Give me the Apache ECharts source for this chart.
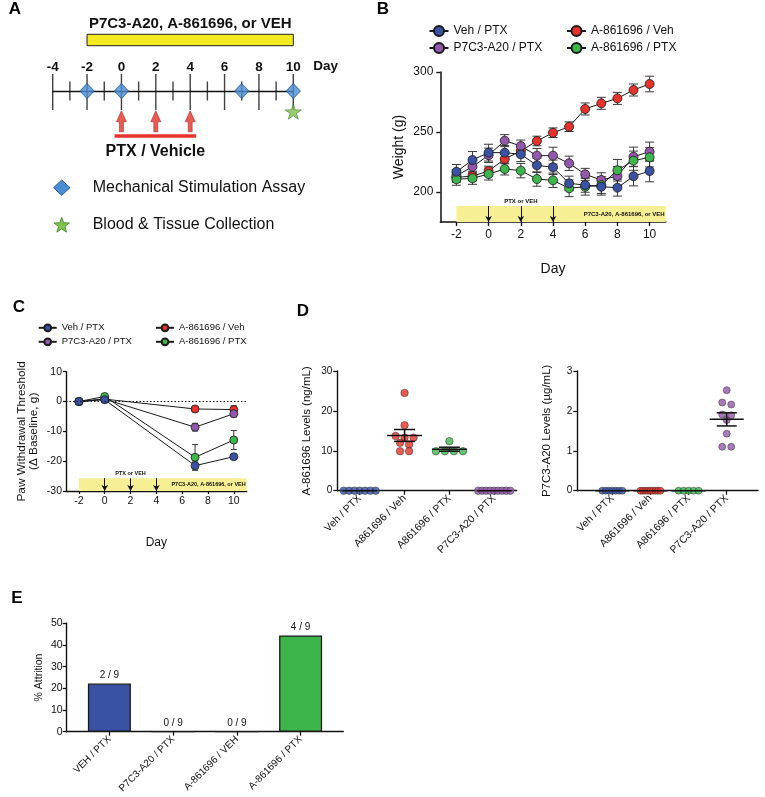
<!DOCTYPE html>
<html><head><meta charset="utf-8">
<script src="https://cdn.jsdelivr.net/npm/echarts@6/dist/echarts.min.js"></script>
<style>html,body{margin:0;padding:0;background:#fff}#c{width:765px;height:797px}</style>
</head><body><div id="c"></div>
<script>
// ================= DATA =================
// Panel A (timeline schematic)
const timelineStart = -4, timelineEnd = 10;
const assayDays = [-2, 0, 7, 10];
const collectionDays = [10];
const ptxDays = [0, 2, 4];
const treatmentWindow = [-2, 10];

// Panel B (body weight)
const daysB = [-2, -1, 0, 1, 2, 3, 4, 5, 6, 7, 8, 9, 10];
const dayTicks = [-2, 0, 2, 4, 6, 8, 10];
const weightTicks = [200, 250, 300];
const wVehPTX     = [216.9, 226.7, 232.8, 232.8, 231.4, 222.2, 220.6, 207.2, 205.8, 204.4, 203.6, 213.1, 217.5];
const wVehPTXErr  = [6, 7, 7, 6, 6, 6, 6, 6, 6, 7, 7, 8, 9];
const wA86Veh     = [212.2, 213.3, 217.5, 227.5, 234.2, 242.5, 249.4, 254.4, 269.2, 273.9, 278.0, 285.0, 290.0];
const wA86VehErr  = [4, 4, 4, 4, 4, 4, 4, 4, 5, 5, 5, 5, 6.5];
const wP7PTX      = [213.5, 221.1, 230.6, 242.8, 238.3, 230.3, 230.3, 223.9, 214.7, 210.0, 213.3, 229.4, 233.6];
const wP7PTXErr   = [5, 6, 6, 5, 5, 6, 7, 6, 5, 6, 8, 8, 8];
const wA86PTX     = [210.6, 211.4, 215.0, 219.2, 217.8, 210.8, 209.7, 203.1, 204.4, 205.8, 218.1, 226.1, 228.9];
const wA86PTXErr  = [5, 5, 5, 5, 6, 6, 6, 7, 7, 7, 9, 8, 8];

// Panel C (paw withdrawal threshold, delta baseline)
const daysC = [-2, 0, 7, 10];
const pVehPTX    = [0, 0.6, -21.5, -18.5];
const pVehPTXErr = [0, 0.4, 1.5, 0.7];
const pA86Veh    = [0, 0.8, -2.5, -2.7];
const pA86VehErr = [0, 0.4, 0.9, 1.3];
const pP7PTX     = [0, 0.8, -8.6, -4.1];
const pP7PTXErr  = [0, 0.4, 1.3, 1.1];
const pA86PTX    = [0, 1.7, -18.7, -12.9];
const pA86PTXErr = [0, 0.4, 4.3, 3.2];

// Panel D (drug levels)
const dCats = ['Veh / PTX', 'A861696 / Veh', 'A861696 / PTX', 'P7C3-A20 / PTX'];
const a86Levels = [
  [0, 0, 0, 0, 0, 0, 0],
  [24.5, 16.4, 13.7, 13.3, 13.3, 12.0, 11.6, 9.9, 9.9],
  [12.4, 9.9, 9.9, 9.9, 9.9],
  [0, 0, 0, 0, 0, 0, 0, 0, 0]
];
const p7Levels = [
  [0, 0, 0, 0, 0, 0, 0],
  [0, 0, 0, 0, 0, 0, 0, 0, 0],
  [0, 0, 0, 0, 0],
  [2.52, 2.21, 2.16, 1.91, 1.89, 1.77, 1.43, 1.10, 1.10]
];

// Panel E (attrition)
const eCats = ['VEH / PTX', 'P7C3-A20 / PTX', 'A-861696 / VEH', 'A-861696 / PTX'];
const attritionPct = [22.2, 0, 0, 44.4];
const attritionLabels = ['2 / 9', '0 / 9', '0 / 9', '4 / 9'];

// ================= STYLE =================
const FONT = '"Liberation Sans", Arial, Helvetica, sans-serif';
const INK = '#111111';
const BLUE = '#3a52a3', RED = '#e6322a', PURPLE = '#9358ab', GREEN = '#3db54b';
const YELLOW_A = '#f3ea1f', YELLOW_BAND = '#f7ef93';
const DIAMOND = '#4a8dd2', STAR = '#7cc34b';
const STAR_PATH = 'path://M50,2 L61.8,36.2 L97.6,36.2 L68.6,57.6 L79.4,92 L50,71 L20.6,92 L31.4,57.6 L2.4,36.2 L38.2,36.2 Z';
const ARROW_PATH = 'path://M10,0 L20,11 L14,11 L14,21 L6,21 L6,11 L0,11 Z';

const chart = echarts.init(document.getElementById('c'), null, {renderer: 'canvas', width: 765, height: 797});

function txt(size, extra) { return Object.assign({fontFamily: FONT, fontSize: size, color: INK}, extra || {}); }

function valAxis(o) {
  const lw = o.lw || 1.4;
  const ax = {
    type: 'value', gridIndex: o.g, min: o.min, max: o.max,
    axisLine: {show: true, onZero: false, lineStyle: {color: INK, width: lw}},
    axisTick: {show: true, length: o.tick || 4, lineStyle: {color: INK, width: lw * 0.9}},
    splitLine: {show: false},
    axisLabel: Object.assign({color: INK, fontFamily: FONT, fontSize: o.fs || 11, margin: o.margin || 6}, o.label || {}),
  };
  if (o.interval != null) ax.interval = o.interval;
  if (o.custom) { ax.axisTick.customValues = o.custom; ax.axisLabel.customValues = o.custom; }
  if (o.name) {
    ax.name = o.name; ax.nameLocation = 'middle'; ax.nameGap = o.nameGap;
    ax.nameTextStyle = txt(o.nfs || 12, o.nameStyle || {});
    if (o.rot) ax.nameRotate = 90;
  }
  return ax;
}

function errRender(capW) {
  return function (params, api) {
    const x = api.value(0), y = api.value(1), e = api.value(2);
    if (!e) return null;
    const t = api.coord([x, y + e]), b = api.coord([x, y - e]);
    const st = {stroke: '#3a3a3a', lineWidth: 1};
    return {type: 'group', children: [
      {type: 'line', shape: {x1: t[0], y1: t[1], x2: b[0], y2: b[1]}, style: st},
      {type: 'line', shape: {x1: t[0] - capW / 2, y1: t[1], x2: t[0] + capW / 2, y2: t[1]}, style: st},
      {type: 'line', shape: {x1: b[0] - capW / 2, y1: b[1], x2: b[0] + capW / 2, y2: b[1]}, style: st}
    ]};
  };
}

function groupSeries(name, color, xs, ys, errs, gi, size, capW) {
  return [
    {type: 'custom', name: name + ' err', xAxisIndex: gi, yAxisIndex: gi, silent: true, z: 2,
      renderItem: errRender(capW), encode: {x: 0, y: 1},
      data: xs.map((x, i) => [x, ys[i], errs[i]])},
    {type: 'line', name: name, xAxisIndex: gi, yAxisIndex: gi, z: 2, silent: true,
      data: xs.map((x, i) => [x, ys[i]]), symbol: 'circle', symbolSize: size, showSymbol: true,
      itemStyle: {color: color, borderColor: '#1a1a1a', borderWidth: 0.8},
      lineStyle: {color: '#1a1a1a', width: 1}}
  ];
}

// simple GraphPad-like column scatter: rows of near-equal values are spread horizontally
function swarm(values, cat, pxPerUnit, spacing, maxW) {
  const sorted = values.slice().sort((a, b) => b - a);
  const rows = []; let cur = [sorted[0]];
  for (let i = 1; i < sorted.length; i++) {
    if ((cur[cur.length - 1] - sorted[i]) * pxPerUnit < 3) cur.push(sorted[i]);
    else { rows.push(cur); cur = [sorted[i]]; }
  }
  rows.push(cur);
  const out = [];
  rows.forEach(r => {
    const k = r.length; const s = k > 1 ? Math.min(spacing, maxW / (k - 1)) : 0;
    r.forEach((v, j) => out.push({value: [cat, v], symbolOffset: [(j - (k - 1) / 2) * s, 0]}));
  });
  return out;
}
function meanSem(vals) {
  const n = vals.length; const m = vals.reduce((a, b) => a + b, 0) / n;
  const sd = Math.sqrt(vals.reduce((a, b) => a + (b - m) * (b - m), 0) / (n - 1));
  return [m, sd / Math.sqrt(n)];
}
function meanRender(meanW, capW) {
  return function (params, api) {
    const x = api.value(0), m = api.value(1), s = api.value(2);
    const c = api.coord([x, m]), t = api.coord([x, m + s]), b = api.coord([x, m - s]);
    const st = {stroke: '#111', lineWidth: 1.5};
    const ch = [{type: 'line', shape: {x1: c[0] - meanW / 2, y1: c[1], x2: c[0] + meanW / 2, y2: c[1]}, style: st}];
    if (s > 0) {
      ch.push({type: 'line', shape: {x1: t[0], y1: t[1], x2: b[0], y2: b[1]}, style: st});
      ch.push({type: 'line', shape: {x1: t[0] - capW / 2, y1: t[1], x2: t[0] + capW / 2, y2: t[1]}, style: st});
      ch.push({type: 'line', shape: {x1: b[0] - capW / 2, y1: b[1], x2: b[0] + capW / 2, y2: b[1]}, style: st});
    }
    return {type: 'group', children: ch};
  };
}

// ================= GRIDS & AXES =================
const grids = [
  {left: 52.7, top: 31, width: 240.6, height: 110},     // A
  {left: 440.3, top: 72, width: 225.4, height: 150},    // B
  {left: 66, top: 371.7, width: 180.7, height: 119.3},  // C
  {left: 337.3, top: 371, width: 179.4, height: 119.7}, // D left
  {left: 577.3, top: 371, width: 180.7, height: 119.7}, // D right
  {left: 66.7, top: 623.3, width: 276.6, height: 108.4} // E
];
const aYMin = -50, aYMax = 60;
const bMin = 175, bMax = 300, bBandTop = 188.3;
const cMin = -30, cMax = 10, cBandTop = -25.7;
const dayMin = -3, dayMax = 11;

const xAxes = [
  {type: 'value', gridIndex: 0, min: timelineStart, max: timelineEnd, interval: 2, position: 'top',
    offset: -aYMax * (110 / (aYMax - aYMin)),
    axisLine: {show: true, onZero: false, lineStyle: {color: INK, width: 1.3}},
    axisTick: {show: false}, splitLine: {show: false},
    axisLabel: {color: INK, fontFamily: FONT, fontSize: 13.5, fontWeight: 'bold', margin: 17}},
  valAxis({g: 1, min: dayMin, max: dayMax, custom: dayTicks, fs: 12, margin: 7, lw: 1.5,
    name: 'Day', nameGap: 40, nfs: 14}),
  valAxis({g: 2, min: dayMin, max: dayMax, custom: dayTicks, fs: 10.5, margin: 5, tick: 3,
    name: 'Day', nameGap: 46, nfs: 12}),
  valAxis({g: 3, min: -0.5, max: 3.5, custom: [0, 1, 2, 3], fs: 10.5, margin: 6,
    label: {rotate: 45, formatter: v => dCats[Math.round(v)] || ''}}),
  valAxis({g: 4, min: -0.918, max: 3.82, custom: [0, 1, 2, 3], fs: 10.5, margin: 6,
    label: {rotate: 45, formatter: v => dCats[Math.round(v)] || ''}}),
  valAxis({g: 5, min: -0.67, max: 3.67, custom: [0, 1, 2, 3], fs: 10, margin: 6,
    label: {rotate: 45, formatter: v => eCats[Math.round(v)] || ''}})
];
const yAxes = [
  {type: 'value', gridIndex: 0, min: aYMin, max: aYMax, show: false},
  valAxis({g: 1, min: bMin, max: bMax, custom: weightTicks, fs: 12, margin: 7, lw: 1.5,
    name: 'Weight (g)', nameGap: 34, nfs: 14, rot: true}),
  valAxis({g: 2, min: cMin, max: cMax, interval: 10, fs: 10.5, margin: 4, tick: 3,
    name: 'Paw Withdrawal Threshold\n(Δ Baseline, g)', nameGap: 26, nfs: 11.8, rot: true, nameStyle: {lineHeight: 12}}),
  valAxis({g: 3, min: 0, max: 30, interval: 10, fs: 10, margin: 5,
    name: 'A-861696 Levels (ng/mL)', nameGap: 24, nfs: 11.5, rot: true}),
  valAxis({g: 4, min: 0, max: 3, interval: 1, fs: 10, margin: 5,
    name: 'P7C3-A20 Levels (µg/mL)', nameGap: 24, nfs: 11.5, rot: true}),
  valAxis({g: 5, min: 0, max: 50, interval: 10, fs: 10.5, margin: 4,
    name: '% Attrition', nameGap: 22, nfs: 10.5, rot: true})
];

// ================= SERIES =================
const series = [];

// ---- Panel A
const tickData = [];
for (let d = timelineStart; d <= timelineEnd; d++) {
  const major = d % 2 === 0;
  tickData.push({value: [d, 0], symbolSize: major ? [1.4, 36] : [1.4, 19], symbolOffset: major ? [0, 1] : [0, 0]});
}
series.push({type: 'scatter', xAxisIndex: 0, yAxisIndex: 0, data: tickData, symbol: 'rect', clip: false, silent: true, z: 2,
  itemStyle: {color: INK},
  markArea: {silent: true, itemStyle: {color: YELLOW_A, borderColor: '#222', borderWidth: 1},
    label: {show: true, position: 'top', distance: 2, formatter: 'P7C3-A20, A-861696, or VEH',
      fontFamily: FONT, fontSize: 15, fontWeight: 'bold', color: INK},
    data: [[{coord: [treatmentWindow[0], 45.3]}, {coord: [treatmentWindow[1], 56.7]}]]}});
series.push({type: 'scatter', xAxisIndex: 0, yAxisIndex: 0, data: assayDays.map(d => [d, 0]), symbol: 'diamond',
  symbolSize: [14, 15], clip: false, silent: true, z: 3,
  itemStyle: {color: DIAMOND, borderColor: '#2b5f9c', borderWidth: 1}});
series.push({type: 'scatter', xAxisIndex: 0, yAxisIndex: 0, data: collectionDays.map(d => [d, -20.7]), symbol: STAR_PATH,
  symbolSize: [16, 15], clip: false, silent: true, z: 3,
  itemStyle: {color: STAR, borderColor: '#3f7d2a', borderWidth: 0.8}});
series.push({type: 'scatter', xAxisIndex: 0, yAxisIndex: 0, data: ptxDays.map(d => [d, -30.3]), symbol: ARROW_PATH,
  symbolSize: [10, 21], clip: false, silent: true, z: 3,
  itemStyle: {color: RED, borderColor: '#8c1d15', borderWidth: 0.6},
  markLine: {silent: true, symbol: ['none', 'none'], lineStyle: {color: RED, width: 3.5, type: 'solid'},
    label: {show: true, position: 'insideMiddleBottom', distance: 8, formatter: 'PTX / Vehicle',
      fontFamily: FONT, fontSize: 16, fontWeight: 'bold', color: INK},
    data: [[{coord: [ptxDays[0] - 0.4, -44.7]}, {coord: [ptxDays[ptxDays.length - 1] + 0.35, -44.7]}]]}});

// ---- Panel B band + arrows
function bandSeries(gi, yLo, yHi, fsz) {
  return {type: 'line', xAxisIndex: gi, yAxisIndex: gi, data: [], silent: true, z: 1,
    markArea: {silent: true, itemStyle: {color: YELLOW_BAND},
      label: {show: true, position: 'insideRight', distance: 1, formatter: 'P7C3-A20, A-861696, or VEH',
        fontFamily: FONT, fontSize: fsz, fontWeight: 'bold', color: INK},
      data: [[{coord: [treatmentWindow[0], yLo]}, {coord: [dayMax, yHi]}]]},
    markLine: {silent: true, symbol: ['none', 'arrow'], symbolSize: [5, 6],
      lineStyle: {color: INK, width: 1, type: 'solid'}, label: {show: false},
      data: ptxDays.map((d, i) => {
        const lab = i === 1 ? {show: true, position: 'start', distance: 2, formatter: 'PTX or VEH',
          fontFamily: FONT, fontSize: fsz, fontWeight: 'bold', color: INK} : {show: false};
        return [{coord: [d, yHi], label: lab}, {coord: [d, yLo], label: lab}];
      })}};
}
series.push(bandSeries(1, bMin, bBandTop, 6));
series.push(...groupSeries('A-861696 / Veh', RED, daysB, wA86Veh, wA86VehErr, 1, 9, 9));
series.push(...groupSeries('P7C3-A20 / PTX', PURPLE, daysB, wP7PTX, wP7PTXErr, 1, 9, 9));
series.push(...groupSeries('A-861696 / PTX', GREEN, daysB, wA86PTX, wA86PTXErr, 1, 9, 9));
series.push(...groupSeries('Veh / PTX', BLUE, daysB, wVehPTX, wVehPTXErr, 1, 9, 9));

// ---- Panel C
series.push(bandSeries(2, cMin, cBandTop, 5.5));
series.push({type: 'line', xAxisIndex: 2, yAxisIndex: 2, data: [], silent: true, z: 1,
  markLine: {silent: true, symbol: ['none', 'none'], label: {show: false},
    lineStyle: {color: INK, width: 1, type: [1.5, 2]}, data: [{yAxis: 0}]}});
series.push(...groupSeries('A-861696 / Veh', RED, daysC, pA86Veh, pA86VehErr, 2, 8, 6));
series.push(...groupSeries('P7C3-A20 / PTX', PURPLE, daysC, pP7PTX, pP7PTXErr, 2, 8, 6));
series.push(...groupSeries('A-861696 / PTX', GREEN, daysC, pA86PTX, pA86PTXErr, 2, 8, 6));
series.push(...groupSeries('Veh / PTX', BLUE, daysC, pVehPTX, pVehPTXErr, 2, 8, 6));

// ---- Panel D
const dColors = [BLUE, RED, GREEN, PURPLE];
function dPanel(gi, groups, pxPerUnit, spacing, maxW, size, meanW, capW) {
  groups.forEach((vals, ci) => {
    series.push({type: 'scatter', xAxisIndex: gi, yAxisIndex: gi, clip: false, silent: true, z: 2,
      symbol: 'circle', symbolSize: size, data: swarm(vals, ci, pxPerUnit, spacing, maxW),
      itemStyle: {color: dColors[ci], borderColor: '#2a2a2a', borderWidth: 0.6}});
  });
  series.push({type: 'custom', xAxisIndex: gi, yAxisIndex: gi, silent: true, z: 3, encode: {x: 0, y: 1},
    renderItem: meanRender(meanW, capW),
    data: groups.map((vals, ci) => { const ms = meanSem(vals); return [ci, ms[0], ms[1]]; })});
}
dPanel(3, a86Levels, 119.7 / 30, 9, 32, 7.5, 35, 21);
dPanel(4, p7Levels, 119.7 / 3, 9, 20, 7, 34, 20);

// ---- Panel E
const eColors = [BLUE, '#ffffff', '#ffffff', GREEN];
series.push({type: 'bar', xAxisIndex: 5, yAxisIndex: 5, barWidth: 43, silent: true, z: 2,
  itemStyle: {borderColor: '#1a1a1a', borderWidth: 1.3},
  label: {show: true, position: 'top', distance: 3, fontFamily: FONT, fontSize: 10, color: INK},
  data: attritionPct.map((v, i) => ({value: [i, v], itemStyle: {color: eColors[i]},
    label: {formatter: attritionLabels[i]}}))});

// ================= LEGENDS =================
const legStyleB = {orient: 'vertical', itemWidth: 19, itemHeight: 12.5, itemGap: 5, selectedMode: false,
  textStyle: txt(12), padding: 0};
const legStyleC = {orient: 'vertical', itemWidth: 18, itemHeight: 8.5, itemGap: 4, selectedMode: false,
  textStyle: txt(9.5), padding: 0};
const legends = [
  Object.assign({data: ['Veh / PTX', 'P7C3-A20 / PTX'], left: 428.5, top: 25}, legStyleB),
  Object.assign({data: ['A-861696 / Veh', 'A-861696 / PTX'], left: 566, top: 25}, legStyleB),
  Object.assign({data: ['Veh / PTX', 'P7C3-A20 / PTX'], left: 37.7, top: 322.8}, legStyleC),
  Object.assign({data: ['A-861696 / Veh', 'A-861696 / PTX'], left: 155, top: 322.8}, legStyleC)
];

// ================= GRAPHIC (panel letters, schematic legend) =================
function starPoints(cx, cy, R, r) {
  const pts = [];
  for (let i = 0; i < 10; i++) {
    const a = -Math.PI / 2 + i * Math.PI / 5; const rr = i % 2 ? r : R;
    pts.push([cx + rr * Math.cos(a), cy + rr * Math.sin(a)]);
  }
  return pts;
}
const letters = [['A', 15, 9], ['B', 383, 9], ['C', 19, 307.5], ['D', 303, 311.7], ['E', 17, 598.5]];
const graphic = letters.map(l => ({type: 'text', x: l[1], y: l[2], silent: true,
  style: {text: l[0], fontFamily: FONT, fontSize: 17, fontWeight: 'bold', fill: '#000', align: 'center', verticalAlign: 'middle'}}));
graphic.push({type: 'text', x: 313.3, y: 66.7, silent: true,
  style: {text: 'Day', fontFamily: FONT, fontSize: 13.5, fontWeight: 'bold', fill: INK, align: 'left', verticalAlign: 'middle'}});
graphic.push({type: 'polygon', silent: true, shape: {points: [[53.5, 187.7], [61.7, 180], [70, 187.7], [61.7, 195.4]]},
  style: {fill: DIAMOND, stroke: '#2b5f9c', lineWidth: 1}});
graphic.push({type: 'polygon', silent: true, shape: {points: starPoints(61.7, 225.5, 8.2, 3.4)},
  style: {fill: STAR, stroke: '#3f7d2a', lineWidth: 0.8}});
graphic.push({type: 'text', x: 92.7, y: 187.7, silent: true,
  style: {text: 'Mechanical Stimulation Assay', fontFamily: FONT, fontSize: 16, fill: INK, align: 'left', verticalAlign: 'middle'}});
graphic.push({type: 'text', x: 92.7, y: 224.3, silent: true,
  style: {text: 'Blood & Tissue Collection', fontFamily: FONT, fontSize: 16, fill: INK, align: 'left', verticalAlign: 'middle'}});

chart.setOption({
  animation: false,
  backgroundColor: '#ffffff',
  textStyle: {fontFamily: FONT},
  grid: grids,
  xAxis: xAxes,
  yAxis: yAxes,
  legend: legends,
  graphic: graphic,
  series: series
});
</script></body></html>
